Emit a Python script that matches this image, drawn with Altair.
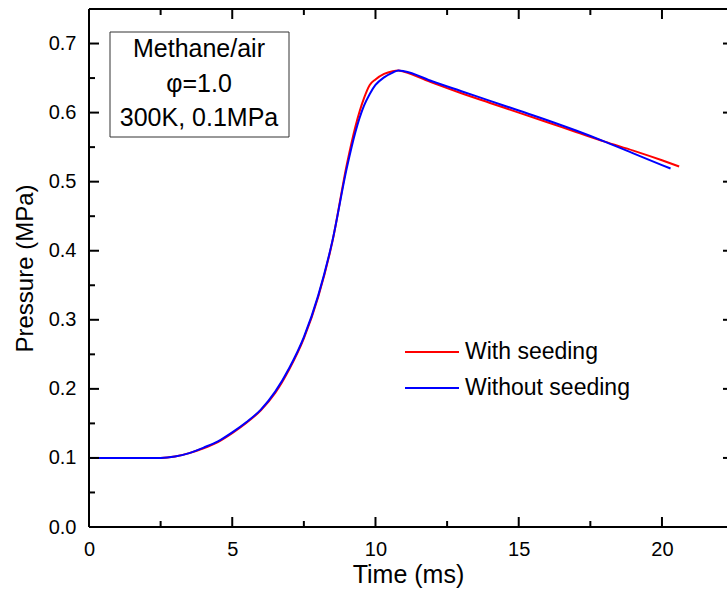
import altair as alt
import pandas as pd

# Pressure traces (time in ms, pressure in MPa)
t_with = [0, 2.5, 3.0, 3.5, 4.0, 4.5, 5.0, 5.5, 6.0, 6.5, 7.0, 7.5, 8.0, 8.5, 9.0, 9.3,
          9.6, 9.8, 10.0, 10.3, 10.6, 10.8, 11.0, 12, 13, 14, 15, 16, 17, 18, 19, 20, 20.6]
p_with = [0.100, 0.100, 0.102, 0.107, 0.114, 0.123, 0.136, 0.151, 0.169, 0.194, 0.229,
          0.273, 0.333, 0.414, 0.525, 0.580, 0.621, 0.640, 0.648, 0.656, 0.660, 0.661,
          0.659, 0.643, 0.628, 0.614, 0.600, 0.586, 0.572, 0.558, 0.545, 0.531, 0.522]

t_without = [0, 2.5, 3.0, 3.5, 4.0, 4.5, 5.0, 5.5, 6.0, 6.5, 7.0, 7.5, 8.0, 8.5, 9.0, 9.3,
             9.6, 9.8, 10.0, 10.3, 10.6, 10.8, 11.0, 12, 13, 14, 15, 16, 17, 18, 19, 20, 20.3]
p_without = [0.100, 0.100, 0.102, 0.107, 0.115, 0.124, 0.137, 0.152, 0.170, 0.196, 0.231,
             0.275, 0.335, 0.415, 0.520, 0.572, 0.610, 0.627, 0.640, 0.651, 0.658, 0.661,
             0.660, 0.645, 0.631, 0.617, 0.603, 0.589, 0.574, 0.558, 0.541, 0.524, 0.519]

series_names = ["With seeding", "Without seeding"]
series_colors = ["#ff0000", "#0000ff"]

x_major = [0, 5, 10, 15, 20]
x_minor = [2.5, 7.5, 12.5, 17.5]
y_major = [0.0, 0.1, 0.2, 0.3, 0.4, 0.5, 0.6, 0.7]
y_minor = [0.05, 0.15, 0.25, 0.35, 0.45, 0.55, 0.65]

note_lines = ["Methane/air", "\u03c6=1.0", "300K, 0.1MPa"]

FONT = "Liberation Sans"
W, H = 638, 518
X_DOMAIN = [0, 22.27]
Y_DOMAIN = [0, 0.75]

df = pd.concat([
    pd.DataFrame({"t": t_with, "p": p_with, "series": series_names[0], "order": range(len(t_with))}),
    pd.DataFrame({"t": t_without, "p": p_without, "series": series_names[1], "order": range(len(t_without))}),
])

xs = alt.Scale(domain=X_DOMAIN, nice=False, zero=False)
ys = alt.Scale(domain=Y_DOMAIN, nice=False, zero=False)

x_axis = alt.Axis(values=x_major, ticks=False, domain=False, grid=False, labelFontSize=20,
                  labelPadding=12, labelColor="black", titleFontSize=25, titleFontWeight="normal",
                  titleColor="black", titlePadding=3, labelFont=FONT, titleFont=FONT,
                  labelFlush=False)
y_axis = alt.Axis(values=y_major, format=".1f", ticks=False, domain=False, grid=False,
                  labelFontSize=20, labelPadding=13, labelColor="black", titleFontSize=24,
                  titleFontWeight="normal", titleColor="black", titlePadding=11,
                  labelFont=FONT, titleFont=FONT)

# Pressure curves (blue drawn over red)
lines = alt.Chart(df).mark_line(strokeWidth=2, interpolate="monotone", clip=True).encode(
    x=alt.X("t:Q", scale=xs, axis=x_axis, title="Time (ms)"),
    y=alt.Y("p:Q", scale=ys, axis=y_axis, title="Pressure (MPa)"),
    color=alt.Color("series:N", scale=alt.Scale(domain=series_names, range=series_colors), legend=None),
    order="order:Q",
    detail="series:N",
)

# Frame lines
frame = [
    alt.Chart().mark_rule(color="black", strokeWidth=2).encode(
        x=alt.value(0), x2=alt.value(W + 4), y=alt.value(H), y2=alt.value(H)),
    alt.Chart().mark_rule(color="black", strokeWidth=2).encode(
        x=alt.value(0), x2=alt.value(W + 4), y=alt.value(0), y2=alt.value(0)),
    alt.Chart().mark_rule(color="black", strokeWidth=2).encode(
        x=alt.value(0), x2=alt.value(0), y=alt.value(0), y2=alt.value(H)),
]


# Inward tick marks on all four sides
def xticks(vals, length):
    d = pd.DataFrame({"v": vals})
    bottom = alt.Chart(d).mark_rule(color="black", strokeWidth=2).encode(
        x=alt.X("v:Q", scale=xs), y=alt.value(H), y2=alt.value(H - length))
    top = alt.Chart(d).mark_rule(color="black", strokeWidth=2).encode(
        x=alt.X("v:Q", scale=xs), y=alt.value(0), y2=alt.value(length))
    return [bottom, top]


def yticks(vals, length):
    d = pd.DataFrame({"v": vals})
    left = alt.Chart(d).mark_rule(color="black", strokeWidth=2).encode(
        y=alt.Y("v:Q", scale=ys), x=alt.value(0), x2=alt.value(length))
    right = alt.Chart(d).mark_rule(color="black", strokeWidth=2).encode(
        y=alt.Y("v:Q", scale=ys), x=alt.value(W + 6), x2=alt.value(W + 6 - length))
    return [left, right]


ticks = xticks(x_major, 10) + xticks(x_minor, 6) + yticks(y_major, 10) + yticks(y_minor, 6)

# Annotation box with conditions
box = alt.Chart().mark_rect(fill="white", stroke="#333333", strokeWidth=1).encode(
    x=alt.value(21), x2=alt.value(200), y=alt.value(23), y2=alt.value(128))
note_df = pd.DataFrame({"txt": note_lines, "row": range(len(note_lines))})
note = alt.Chart(note_df).mark_text(fontSize=25, font=FONT, color="black", align="center",
                                    baseline="middle").encode(
    text="txt:N",
    x=alt.value(110),
    y=alt.Y("row:Q", scale=alt.Scale(domain=[0, len(note_lines) - 1], range=[40, 109]), axis=None),
)

# Legend drawn as line samples with labels
legend_layers = []
for i, (name, col) in enumerate(zip(series_names, series_colors)):
    yy = 343 + 36 * i
    legend_layers.append(alt.Chart().mark_rule(color=col, strokeWidth=2).encode(
        x=alt.value(316), x2=alt.value(370), y=alt.value(yy), y2=alt.value(yy)))
    legend_layers.append(alt.Chart(pd.DataFrame({"txt": [name]})).mark_text(
        fontSize=23, font=FONT, color="black", align="left", baseline="middle").encode(
        text="txt:N", x=alt.value(376), y=alt.value(yy)))

chart = alt.layer(
    lines, *frame, *ticks, box, note, *legend_layers
).resolve_scale(y="independent").properties(
    width=W, height=H,
    padding={"left": 89, "top": 9, "right": 0, "bottom": 64},
    autosize=alt.AutoSizeParams(type="none"),
    background="white",
).configure_view(stroke=None)

chart.save("out.html", embed_options={"renderer": "svg", "actions": False})
